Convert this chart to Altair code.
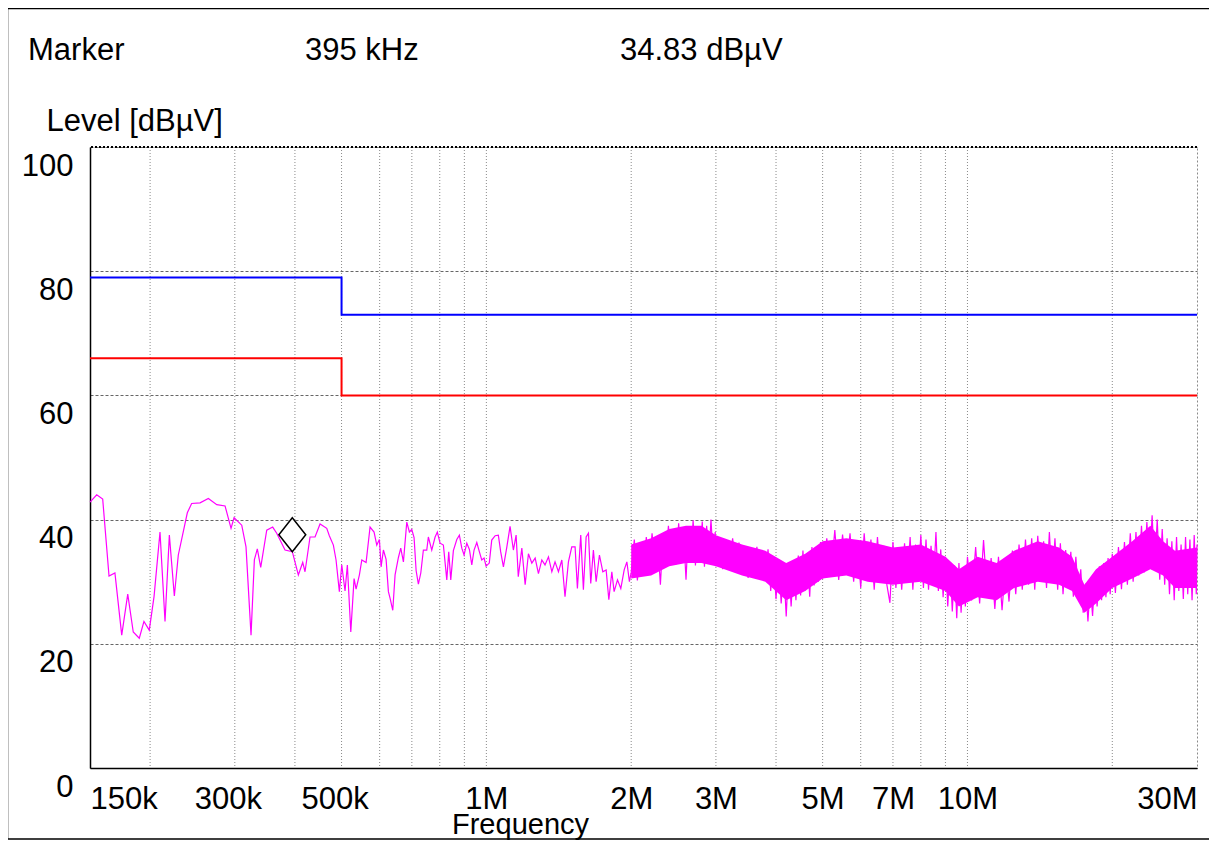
import altair as alt
import pandas as pd

# ---------------- data ----------------
# Low-frequency part of the measured trace (kHz, dBuV)
sparse_khz = [
    150, 154.9, 159.4, 164.3, 169.0, 174.6, 179.7, 184.5, 189.9, 194.2,
    199.2, 203.8, 209.7, 214.8, 219.3, 224.6, 228.9, 239.0, 244.0, 254.0,
    264.3, 275.2, 286.3, 294.6, 298.9, 310.1, 316.5, 324.2, 329.4, 334.1,
    339.6, 349.5, 359.6, 366.6, 381.5, 395.0, 406.6, 415.2, 419.8, 430.0,
    440.4, 451.1, 465.8, 471.6, 480.8, 487.0, 494.8, 500.5, 508.4, 514.1,
    522.6, 530.9, 536.0, 544.6, 550.9, 562.3, 573.1, 584.2, 591.8, 599.3,
    604.2, 610.9, 618.8, 625.7, 630.8, 638.9, 646.0, 656.4, 663.8, 672.3,
    683.2, 691.8, 699.8, 707.5, 714.4, 722.2, 730.6, 739.7, 751.8, 757.5,
    770.0, 782.4, 790.8, 801.3, 814.0, 827.4, 835.2, 843.3, 853.9, 868.0,
    878.8, 889.0, 898.7, 910.6, 922.0, 932.6, 942.8, 955.2, 967.2, 978.1,
    989.0, 998.6, 1014, 1026, 1043, 1059, 1071, 1085, 1103, 1120,
    1138, 1153, 1165, 1185, 1204, 1223, 1243, 1263, 1283, 1304,
    1324, 1346, 1368, 1389, 1412, 1435, 1457, 1481, 1505, 1529,
    1546, 1571, 1591, 1612, 1630, 1648, 1669, 1691, 1718, 1746,
    1774, 1797, 1823, 1843, 1873, 1903, 1934, 1959, 1983,
]
sparse_level = [
    42.8, 44.0, 43.3, 30.9, 31.4, 21.4, 28.0, 21.9, 20.9, 23.6,
    22.2, 27.6, 38.0, 23.6, 37.5, 27.7, 34.3, 41.1, 42.6, 42.7,
    43.4, 42.4, 42.2, 38.6, 40.3, 39.1, 35.6, 21.4, 33.5, 35.3,
    32.3, 38.3, 38.8, 37.8, 35.1, 34.83, 31.1, 33.1, 31.6, 37.2,
    37.2, 39.3, 38.6, 37.4, 35.9, 33.5, 28.4, 32.7, 28.5, 32.7,
    21.9, 30.5, 28.8, 31.1, 33.5, 33.1, 38.8, 38.0, 35.9, 36.8,
    32.4, 35.1, 33.6, 28.4, 27.3, 25.4, 31.1, 33.9, 35.4, 33.2,
    39.6, 38.0, 38.4, 37.1, 31.8, 29.6, 31.4, 35.1, 35.1, 37.2,
    35.1, 37.2, 38.0, 36.2, 35.9, 30.3, 34.8, 30.3, 35.0, 36.8,
    37.5, 35.4, 34.3, 36.2, 35.2, 32.7, 35.1, 36.3, 34.8, 33.5,
    33.8, 32.5, 33.0, 36.7, 37.4, 37.5, 34.8, 32.4, 35.6, 38.9,
    35.1, 37.5, 30.8, 35.4, 29.5, 34.5, 33.0, 33.8, 31.3, 33.5,
    32.7, 34.0, 31.6, 33.2, 31.6, 33.5, 27.6, 33.2, 35.6, 35.6,
    28.9, 37.5, 28.7, 37.2, 37.8, 29.7, 35.1, 30.0, 34.3, 31.6,
    31.9, 27.1, 31.6, 28.4, 30.3, 28.9, 31.9, 33.2, 30.0,
]

# Dense high-frequency part (MHz, dBuV)
dense_a_mhz = [2.00, 2.03, 2.06, 2.09, 2.12, 2.15, 2.18, 2.21, 2.24, 2.27,
               2.30, 2.33, 2.36, 2.39, 2.42, 2.45, 2.48, 2.51, 2.54, 2.57,
               2.60, 2.63, 2.66, 2.69, 2.72, 2.75, 2.78, 2.81, 2.84, 2.87,
               2.90, 2.93, 2.96, 2.99]
dense_a_level = [31.5, 36.8, 30.2, 35.5, 31.8, 37.2, 32.0, 37.8, 33.0, 36.5,
                 29.5, 37.5, 33.4, 39.0, 33.8, 38.4, 32.8, 39.4, 33.5, 37.9,
                 30.3, 38.6, 33.2, 39.9, 32.6, 38.2, 33.5, 39.7, 32.4, 39.0,
                 33.8, 40.0, 34.0, 38.0]
dense_b_mhz = [3.00, 3.05, 3.10, 3.15, 3.20, 3.25, 3.30, 3.35, 3.40, 3.45,
               3.50, 3.55, 3.60, 3.65, 3.70, 3.75, 3.80, 3.85, 3.90, 3.95,
               4.00, 4.05, 4.10, 4.15, 4.20, 4.25, 4.30, 4.35, 4.40, 4.45,
               4.50, 4.55, 4.60, 4.65, 4.70, 4.75, 4.80, 4.85, 4.90, 4.95]
dense_b_level = [32.5, 37.2, 32.0, 36.8, 33.0, 37.0, 31.9, 36.3, 32.2, 35.6,
                 30.6, 35.0, 31.2, 35.6, 30.3, 34.6, 30.8, 35.2, 28.5, 34.0,
                 27.2, 33.6, 26.5, 32.4, 24.4, 33.0, 26.0, 32.8, 27.0, 34.2,
                 27.8, 35.0, 28.6, 34.0, 27.6, 35.6, 29.4, 34.8, 30.0, 36.4]
dense_c_mhz = [5.0, 5.1, 5.2, 5.3, 5.4, 5.5, 5.6, 5.7, 5.8, 5.9,
               6.0, 6.1, 6.2, 6.3, 6.4, 6.5, 6.6, 6.7, 6.8, 6.9,
               7.0, 7.1, 7.2, 7.3, 7.4, 7.5, 7.6, 7.7, 7.8, 7.9,
               8.0, 8.1, 8.2, 8.3, 8.4, 8.5, 8.6, 8.7, 8.8, 8.9,
               9.0, 9.1, 9.2, 9.3, 9.4, 9.5, 9.6, 9.7, 9.8, 9.9]
dense_c_level = [30.5, 37.0, 31.0, 38.3, 30.3, 37.6, 31.5, 37.8, 30.0, 36.5,
                 29.0, 37.8, 30.6, 36.8, 28.7, 37.2, 30.2, 35.8, 29.5, 26.6,
                 36.4, 29.0, 35.5, 28.7, 36.2, 29.8, 37.2, 28.7, 36.0, 30.2,
                 37.5, 29.0, 36.8, 28.7, 35.8, 30.0, 38.0, 28.5, 35.2, 27.5,
                 34.0, 26.0, 33.0, 25.2, 32.6, 24.1, 33.0, 25.0, 32.2, 26.0]
dense_d_mhz = [10.0, 10.2, 10.4, 10.6, 10.8, 11.0, 11.2, 11.4, 11.6, 11.8,
               12.0, 12.2, 12.4, 12.6, 12.8, 13.0, 13.2, 13.4, 13.6, 13.8,
               14.0, 14.2, 14.4, 14.6, 14.8, 15.0, 15.2, 15.4, 15.6, 15.8,
               16.0, 16.2, 16.4, 16.6, 16.8, 17.0, 17.2, 17.4, 17.6, 17.8,
               18.0, 18.2, 18.4, 18.6, 18.8, 19.0, 19.2, 19.4, 19.6, 19.8]
dense_d_level = [34.0, 27.0, 35.6, 26.5, 36.7, 27.5, 33.8, 25.6, 34.0, 25.4,
                 33.0, 26.8, 35.0, 28.0, 36.0, 28.7, 36.8, 29.5, 37.0, 28.7,
                 37.4, 30.0, 36.5, 29.0, 38.0, 29.8, 37.0, 28.7, 36.2, 28.0,
                 35.1, 29.0, 34.8, 27.6, 34.0, 28.0, 32.0, 25.0, 29.7, 23.6,
                 29.5, 24.5, 31.0, 26.0, 32.5, 27.0, 33.0, 27.5, 33.8, 28.0]
dense_e_mhz = [20.0, 20.3, 20.6, 20.9, 21.2, 21.5, 21.8, 22.1, 22.4, 22.7,
               23.0, 23.3, 23.6, 23.9, 24.2, 24.5, 24.8, 25.1, 25.4, 25.7,
               26.0, 26.3, 26.6, 26.9, 27.2, 27.5, 27.8, 28.1, 28.4, 28.7,
               29.0, 29.3, 29.6, 29.9, 30.0]
dense_e_level = [34.5, 28.2, 35.6, 28.8, 36.4, 29.5, 37.8, 30.0, 38.0, 31.0,
                 39.0, 31.5, 39.6, 32.5, 40.7, 32.0, 40.0, 30.3, 38.5, 29.5,
                 37.0, 28.0, 36.5, 27.0, 37.2, 28.5, 36.0, 27.2, 37.2, 28.0,
                 36.8, 27.0, 37.5, 28.0, 36.0]

# Solid core of the dense noise band (MHz, low, high)
core_mhz = [2.0, 2.2, 2.4, 2.6, 2.8, 3.0, 3.4, 3.8, 4.2, 4.6, 5.0, 5.6, 6.2, 7.0, 8.0,
            9.0, 9.6, 10.5, 11.5, 12.5, 14.0, 15.5, 16.5, 17.5, 18.5, 20.0, 22.0,
            24.0, 25.5, 27.0, 30.0]
core_lo = [30.5, 31, 32.5, 33, 33, 32.5, 31, 30, 27, 28.5, 30.5, 31, 30, 29.5, 30,
           28.5, 26, 27.5, 27, 29, 30, 29.5, 28.5, 25, 26.5, 29, 30.5, 32, 31, 29, 29]
core_hi = [36, 37, 38.5, 39, 39, 37.5, 36, 35, 33, 34.5, 36.5, 37, 36.5, 35.5, 36,
           34, 32, 34, 33, 35, 36.5, 35.5, 34, 29.5, 32, 34, 36.5, 39, 36.5, 35, 35.5]

# Limit lines (step after)
limit_hz = [150000, 500000, 30000000]
limit_qp = [79, 73, 73]
limit_av = [66, 60, 60]

# Marker
marker_khz = 395
marker_level = 34.83

# Axes
x_label_values = [150000, 300000, 500000, 1000000, 2000000, 3000000,
                  5000000, 7000000, 10000000, 30000000]
x_label_texts = ["150k", "300k", "500k", "1M", "2M", "3M", "5M", "7M", "10M", "30M"]
grid_hz = [200000, 300000, 400000, 500000, 600000, 700000, 800000, 900000,
           1000000, 2000000, 3000000, 4000000, 5000000, 6000000, 7000000,
           8000000, 9000000, 10000000, 20000000]
y_values = [0, 20, 40, 60, 80, 100]

# ---------------- tables ----------------
dense_mhz = dense_a_mhz + dense_b_mhz + dense_c_mhz + dense_d_mhz + dense_e_mhz
dense_level = dense_a_level + dense_b_level + dense_c_level + dense_d_level + dense_e_level
trace = pd.DataFrame({
    "f": [v * 1e3 for v in sparse_khz] + [v * 1e6 for v in dense_mhz],
    "level": sparse_level + dense_level,
})
core = pd.DataFrame({"f": [v * 1e6 for v in core_mhz], "level": core_lo, "hi": core_hi})
limits_qp = pd.DataFrame({"f": limit_hz, "level": limit_qp})
limits_av = pd.DataFrame({"f": limit_hz, "level": limit_av})
grid = pd.DataFrame({"f": grid_hz})
top = pd.DataFrame({"level": [100]})
marker = pd.DataFrame({"f": [marker_khz * 1000], "level": [marker_level]})
one = pd.DataFrame({"a": [0]})

FONT = "Liberation Sans"
FS = 31

x_scale = alt.Scale(type="log", domain=[150000, 30000000], nice=False)
y_scale = alt.Scale(domain=[0, 100], nice=False, zero=True)

label_expr = "".join(
    f"datum.value == {v} ? '{t}' : " for v, t in zip(x_label_values, x_label_texts)
) + "''"

x_axis = alt.Axis(
    values=x_label_values, labelExpr=label_expr, grid=False, ticks=False,
    domain=True, domainColor="black", domainWidth=1.5,
    labelFont=FONT, labelFontSize=FS, labelColor="black",
    labelPadding=31, labelBaseline="middle", labelFlush=False,
    labelOverlap=False, labelBound=False,
    labelAlign={"condition": [{"test": "datum.value < 200000", "value": "left"},
                              {"test": "datum.value > 20000000", "value": "right"}],
                "value": "center"},
    labelOffset={"condition": {"test": "datum.value > 250000 && datum.value < 600000",
                               "value": -7}, "value": 0},
    title="Frequency", titleFont=FONT, titleFontSize=29, titleFontWeight="normal",
    titleColor="black", titleX=430, titleY=65, titleBaseline="alphabetic",
    titleAlign="center", titleAnchor="start",
)
y_axis = alt.Axis(
    values=y_values, grid=True, gridColor="#666666", gridDash=[3, 2], gridWidth=1,
    ticks=False, domain=True, domainColor="black", domainWidth=1.5,
    labelFont=FONT, labelFontSize=FS, labelColor="black", labelPadding=17,
    labelOffset=19, labelBaseline="middle", labelFlush=False, labelBound=False,
    title="Level [dBµV]", titleFont=FONT, titleFontSize=FS, titleFontWeight="normal",
    titleColor="black", titleAngle=0, titleX=-44, titleY=-26, titleAlign="left",
    titleBaseline="middle",
)

X = alt.X("f:Q", scale=x_scale, axis=x_axis)
Y = alt.Y("level:Q", scale=y_scale, axis=y_axis)

vgrid = alt.Chart(grid).mark_rule(color="#8a8a8a", strokeDash=[1, 2], strokeWidth=1).encode(x=X)
top_rule = alt.Chart(top).mark_rule(color="black", strokeDash=[2, 2], strokeWidth=2).encode(y=Y)

core_area = alt.Chart(core).mark_area(color="#ff00ff", opacity=1).encode(x=X, y=Y, y2="hi:Q")
trace_line = alt.Chart(trace).mark_line(color="#ff00ff", strokeWidth=1.2).encode(x=X, y=Y)
qp_line = alt.Chart(limits_qp).mark_line(color="#0000ff", strokeWidth=2,
                                         interpolate="step-after").encode(x=X, y=Y)
av_line = alt.Chart(limits_av).mark_line(color="#ff0000", strokeWidth=2,
                                         interpolate="step-after").encode(x=X, y=Y)
diamond = alt.Chart(marker).mark_point(
    shape="M0,-1L0.79,0L0,1L-0.79,0Z", size=1156, filled=True, fill="white",
    stroke="black", strokeWidth=1.5, opacity=1, yOffset=-17,
).encode(x=X, y=Y)


def header(text, x):
    return alt.Chart(one).mark_text(
        text=text, font=FONT, fontSize=FS, color="black", align="left", baseline="middle"
    ).encode(x=alt.value(x), y=alt.value(-96))


h1 = header("Marker", -62)
h2 = header(f"{marker_khz} kHz", 215)
h3 = header(f"{marker_level:.2f} dBµV", 530)

frame = alt.Chart(one).mark_rect(
    fillOpacity=0, stroke="black", strokeWidth=1.5
).encode(
    x=alt.value(-82.5), x2=alt.value(1140), y=alt.value(-138.5), y2=alt.value(692)
)

chart = alt.layer(
    vgrid, top_rule, core_area, trace_line, qp_line, av_line, diamond, h1, h2, h3, frame
).properties(
    width=1107, height=621,
    padding={"left": 82, "top": 139, "right": 12, "bottom": 72},
    autosize=alt.AutoSizeParams(type="none"),
).configure(font=FONT).configure_view(
    stroke="#8a8a8a", strokeDash=[2, 2], strokeWidth=1
)

chart.save("out.html", embed_options={"renderer": "svg", "actions": False})
